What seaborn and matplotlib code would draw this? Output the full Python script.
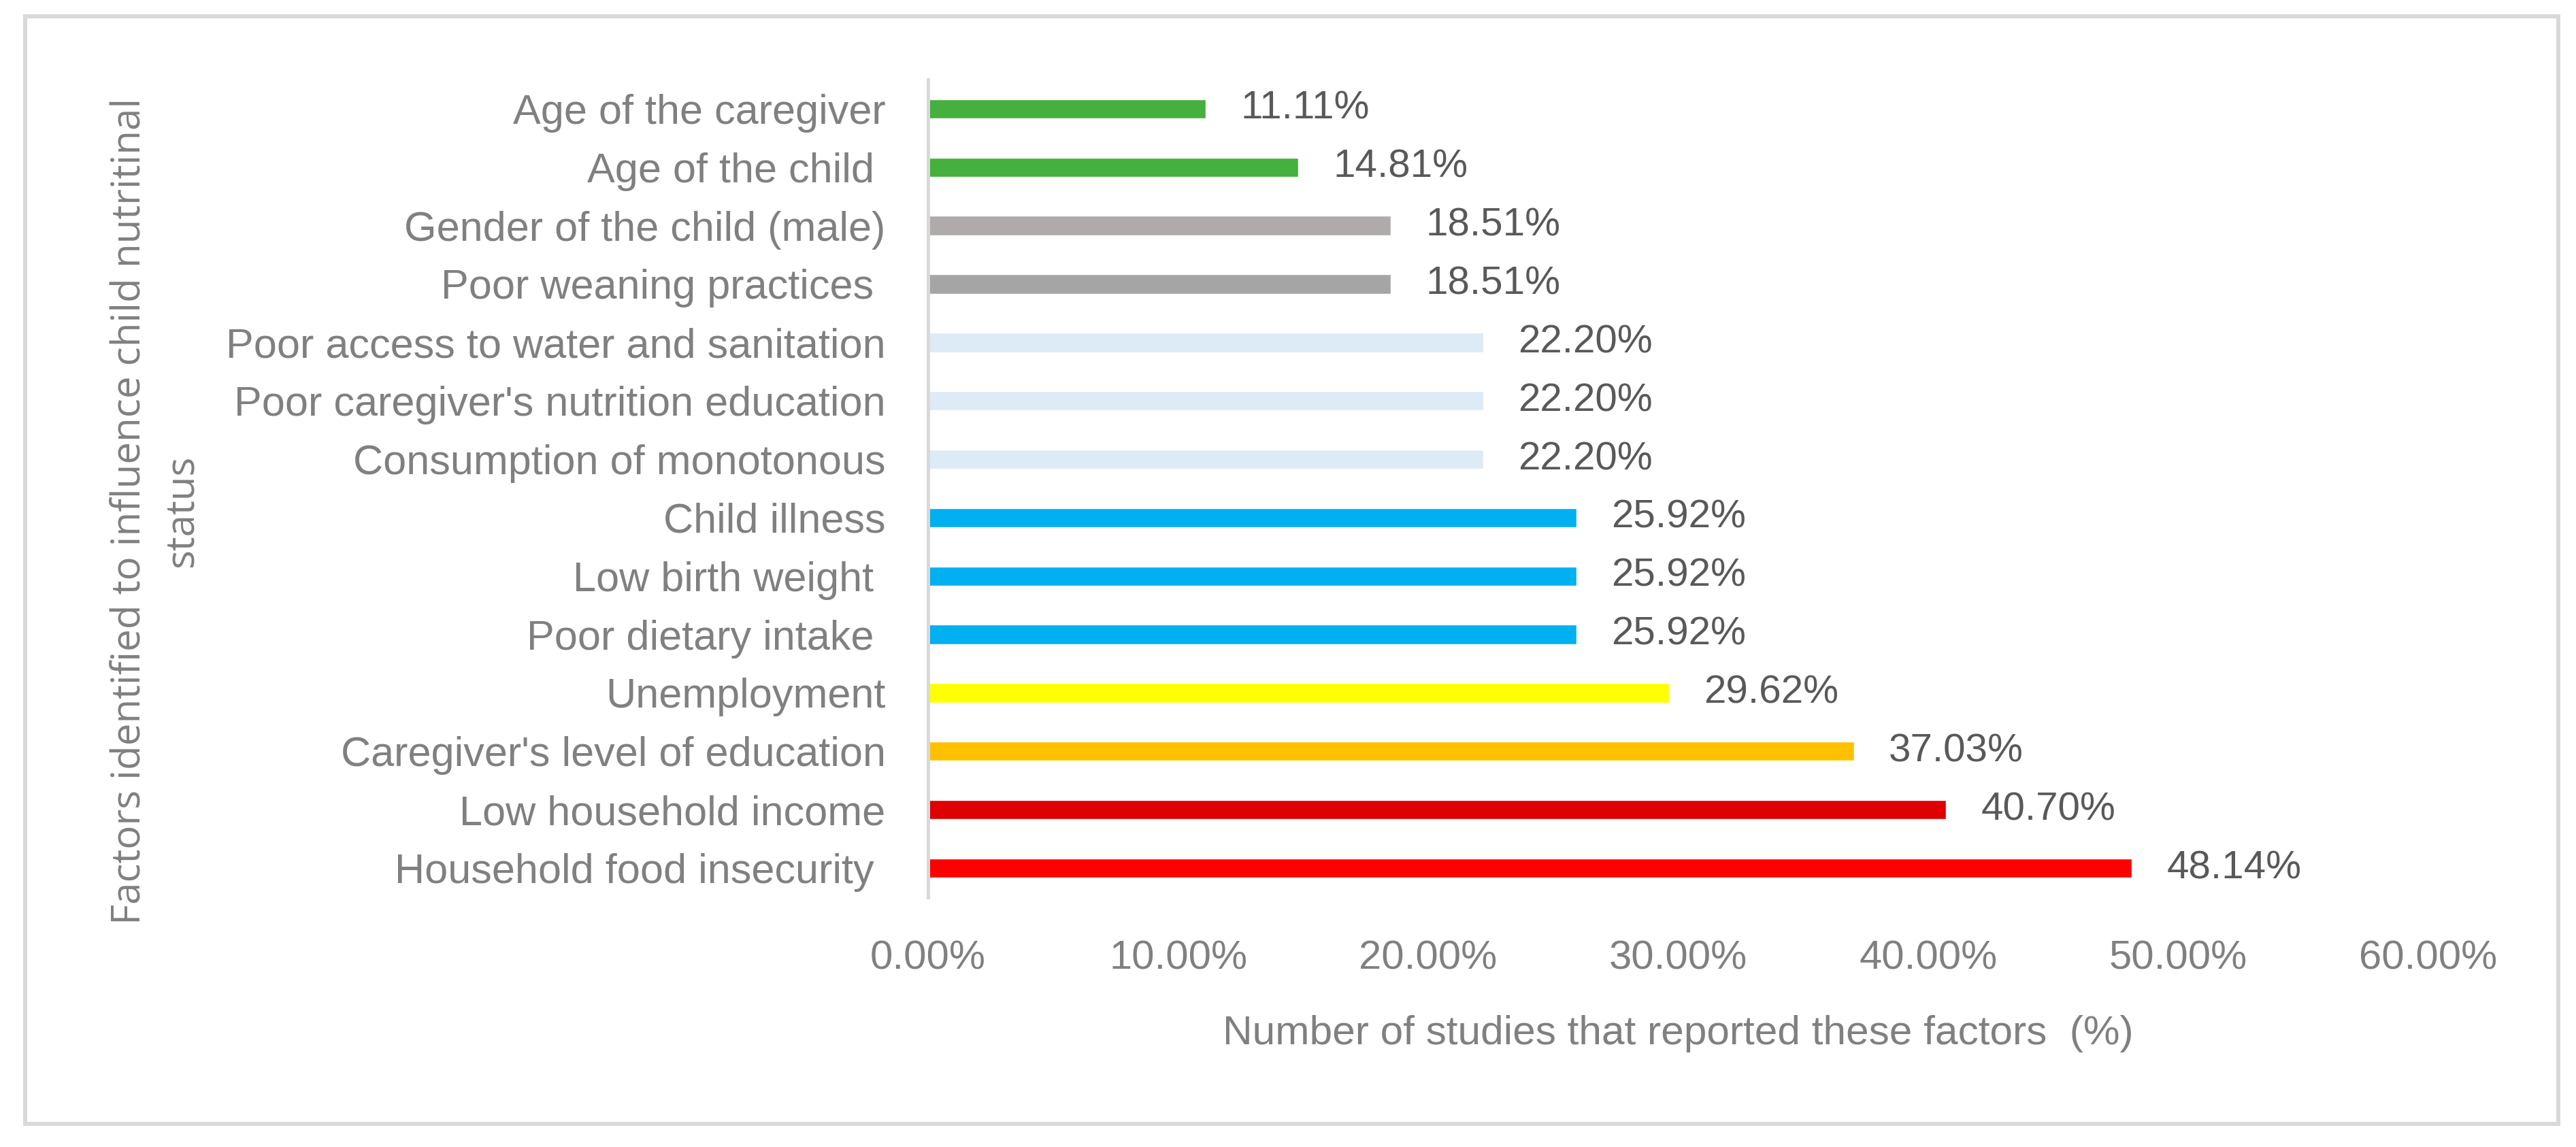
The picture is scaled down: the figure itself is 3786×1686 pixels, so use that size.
import matplotlib
matplotlib.use("Agg")
import matplotlib.pyplot as plt
import matplotlib.patches as patches
import seaborn as sns

# 데이터 (위에서 아래 순서)
factors = [
    "Age of the caregiver",
    "Age of the child ",
    "Gender of the child (male)",
    "Poor weaning practices ",
    "Poor access to water and sanitation",
    "Poor caregiver's nutrition education",
    "Consumption of monotonous",
    "Child illness",
    "Low birth weight ",
    "Poor dietary intake ",
    "Unemployment",
    "Caregiver's level of education",
    "Low household income",
    "Household food insecurity ",
]
values = [11.11, 14.81, 18.51, 18.51, 22.20, 22.20, 22.20,
          25.92, 25.92, 25.92, 29.62, 37.03, 40.70, 48.14]
bar_colors = ["#45b03d", "#45b03d", "#afabab", "#a5a5a5",
              "#ddebf7", "#ddebf7", "#ddebf7",
              "#00b0f0", "#00b0f0", "#00b0f0",
              "#ffff00", "#ffc000", "#df0000", "#ff0000"]
x_ticks = [0, 10, 20, 30, 40, 50, 60]

sns.set_style("white")
plt.rcParams["font.family"] = ["Liberation Sans", "DejaVu Sans"]

fig = plt.figure(figsize=(37.86, 16.86), dpi=100)
ax = fig.add_axes([0.3603, 0.2177, 0.5824, 0.7129])

sns.barplot(x=values, y=factors, hue=factors, palette=bar_colors,
            legend=False, width=0.33, orient="h", ax=ax, saturation=1)

# 값 라벨
for cont, v in zip(ax.containers, values):
    ax.bar_label(cont, labels=[f"{v:.2f}%"], padding=37,
                 fontsize=42, color="#595959")

ax.set_xlim(0, 60)
ax.set_xticks(x_ticks)
ax.set_xticklabels([f"{t:.2f}%" for t in x_ticks])
ax.tick_params(axis="both", length=0, labelcolor="#808080")
ax.tick_params(axis="y", pad=45, labelsize=44)
ax.tick_params(axis="x", pad=45, labelsize=43)

for s in ["top", "right", "bottom"]:
    ax.spines[s].set_visible(False)
ax.spines["left"].set_color("#d9d9d9")
ax.spines["left"].set_linewidth(3.6)

ax.set_xlabel("Number of studies that reported these factors  (%)",
              fontsize=43.5, color="#808080", labelpad=40)
ax.set_ylabel("")

fig.text(0.0605, 0.5546,
         "Factors identified to influence child nutritinal\nstatus",
         rotation=90, ha="center", va="center", multialignment="center",
         fontsize=42, color="#808080", linespacing=1.4,
         family=["Open Sans", "DejaVu Sans"])

# 바깥 테두리
frame = patches.Rectangle((0.0099, 0.0202), 0.9832, 0.9653,
                          transform=fig.transFigure, fill=False,
                          edgecolor="#d9d9d9", linewidth=4.3)
fig.patches.append(frame)

fig.savefig("out.png", dpi=100, facecolor="white")
